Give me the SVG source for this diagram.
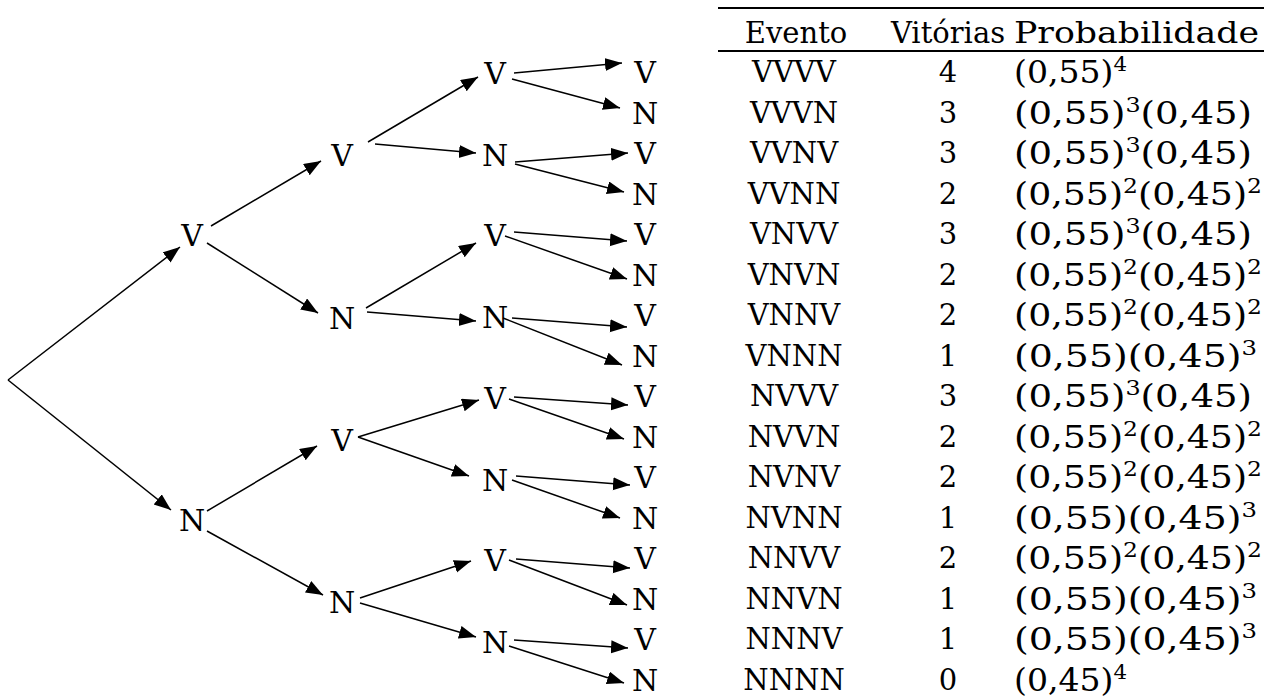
<svg xmlns="http://www.w3.org/2000/svg" width="1264" height="699" viewBox="0 0 1264 699">
<style>
.t{font-family:"DejaVu Serif","Liberation Serif",serif;font-size:30px;fill:#000;text-anchor:middle}
.tb{font-family:"DejaVu Serif","Liberation Serif",serif;font-size:29px;fill:#000}
.p{font-size:31px}
.c{text-anchor:middle}
.sup{font-size:20px}
.e line{stroke:#000;stroke-width:1.5;marker-end:url(#ah)}
.r{stroke:#000;stroke-width:2.2}
</style>
<defs>
<marker id="ah" markerUnits="userSpaceOnUse" markerWidth="18" markerHeight="14" refX="17" refY="6.5" orient="auto">
<path d="M0,0 L17,6.5 L0,13 z" fill="#000"/>
</marker>
</defs>
<rect width="1264" height="699" fill="#fff"/>
<g id="connectors" class="e">
<line x1="8" y1="380" x2="180" y2="247"/>
<line x1="8" y1="380" x2="171" y2="510"/>
<line x1="211" y1="226" x2="321" y2="161"/>
<line x1="207" y1="243" x2="318" y2="313"/>
<line x1="207" y1="511" x2="317" y2="446"/>
<line x1="207" y1="531" x2="323" y2="595"/>
<line x1="368" y1="142" x2="478" y2="77"/>
<line x1="375" y1="144" x2="476" y2="153"/>
<line x1="366" y1="308" x2="476" y2="243"/>
<line x1="367" y1="312" x2="476" y2="321"/>
<line x1="358" y1="437" x2="479" y2="400"/>
<line x1="358" y1="437" x2="469" y2="476"/>
<line x1="360" y1="598" x2="471" y2="561"/>
<line x1="360" y1="603" x2="476" y2="637"/>
<line x1="514" y1="73" x2="622" y2="63"/>
<line x1="512" y1="79" x2="620" y2="108"/>
<line x1="515" y1="162" x2="628" y2="153"/>
<line x1="515" y1="164" x2="624" y2="192"/>
<line x1="514" y1="232" x2="627" y2="241"/>
<line x1="505" y1="236" x2="627" y2="279"/>
<line x1="512" y1="318" x2="627" y2="327"/>
<line x1="503" y1="318" x2="622" y2="365"/>
<line x1="514" y1="397" x2="628" y2="405"/>
<line x1="509" y1="399" x2="624" y2="439"/>
<line x1="516" y1="476" x2="630" y2="485"/>
<line x1="512" y1="480" x2="620" y2="518"/>
<line x1="516" y1="559" x2="630" y2="568"/>
<line x1="509" y1="560" x2="627" y2="605"/>
<line x1="514" y1="640" x2="628" y2="648"/>
<line x1="509" y1="646" x2="624" y2="683"/>
</g>
<g id="n1v"><text class="t" x="192" y="246">V</text></g>
<g id="n1n"><text class="t" x="192" y="531">N</text></g>
<g id="n2vv"><text class="t" x="342" y="166">V</text></g>
<g id="n2vn"><text class="t" x="342" y="329">N</text></g>
<g id="n2nv"><text class="t" x="342" y="451">V</text></g>
<g id="n2nn"><text class="t" x="342" y="613">N</text></g>
<g id="n3a"><text class="t" x="495" y="84">V</text></g>
<g id="n3b"><text class="t" x="495" y="166">N</text></g>
<g id="n3c"><text class="t" x="495" y="246">V</text></g>
<g id="n3d"><text class="t" x="495" y="328">N</text></g>
<g id="n3e"><text class="t" x="495" y="409">V</text></g>
<g id="n3f"><text class="t" x="495" y="491">N</text></g>
<g id="n3g"><text class="t" x="495" y="571">V</text></g>
<g id="n3h"><text class="t" x="495" y="653">N</text></g>
<g id="leaves">
<text class="t" x="645" y="83">V</text>
<text class="t" x="645" y="124">N</text>
<text class="t" x="645" y="164">V</text>
<text class="t" x="645" y="205">N</text>
<text class="t" x="645" y="245">V</text>
<text class="t" x="645" y="286">N</text>
<text class="t" x="645" y="326">V</text>
<text class="t" x="645" y="367">N</text>
<text class="t" x="645" y="407">V</text>
<text class="t" x="645" y="448">N</text>
<text class="t" x="645" y="488">V</text>
<text class="t" x="645" y="529">N</text>
<text class="t" x="645" y="569">V</text>
<text class="t" x="645" y="610">N</text>
<text class="t" x="645" y="650">V</text>
<text class="t" x="645" y="691">N</text>
</g>
<g id="table">
<line class="r" x1="718" y1="8" x2="1264" y2="8"/>
<line class="r" x1="718" y1="51" x2="1264" y2="51"/>
<text class="tb c" x="796" y="43">Evento</text>
<text class="tb c" x="948" y="43">Vitórias</text>
<text class="tb" x="1014" y="43" textLength="245" lengthAdjust="spacingAndGlyphs">Probabilidade</text>
<g class="tb c">
<text x="794" y="82">VVVV</text><text x="948" y="82">4</text>
<text x="794" y="123">VVVN</text><text x="948" y="123">3</text>
<text x="794" y="163">VVNV</text><text x="948" y="163">3</text>
<text x="794" y="204">VVNN</text><text x="948" y="204">2</text>
<text x="794" y="244">VNVV</text><text x="948" y="244">3</text>
<text x="794" y="285">VNVN</text><text x="948" y="285">2</text>
<text x="794" y="325">VNNV</text><text x="948" y="325">2</text>
<text x="794" y="366">VNNN</text><text x="948" y="366">1</text>
<text x="794" y="406">NVVV</text><text x="948" y="406">3</text>
<text x="794" y="447">NVVN</text><text x="948" y="447">2</text>
<text x="794" y="487">NVNV</text><text x="948" y="487">2</text>
<text x="794" y="528">NVNN</text><text x="948" y="528">1</text>
<text x="794" y="568">NNVV</text><text x="948" y="568">2</text>
<text x="794" y="609">NNVN</text><text x="948" y="609">1</text>
<text x="794" y="649">NNNV</text><text x="948" y="649">1</text>
<text x="794" y="690">NNNN</text><text x="948" y="690">0</text>
</g>
<g class="tb p">
<text x="1014" y="83" textLength="113" lengthAdjust="spacingAndGlyphs">(0,55)<tspan class="sup" dy="-12">4</tspan></text>
<text x="1014" y="124" textLength="238" lengthAdjust="spacingAndGlyphs">(0,55)<tspan class="sup" dy="-12">3</tspan><tspan dy="12">(0,45)</tspan></text>
<text x="1014" y="164" textLength="238" lengthAdjust="spacingAndGlyphs">(0,55)<tspan class="sup" dy="-12">3</tspan><tspan dy="12">(0,45)</tspan></text>
<text x="1014" y="205" textLength="248" lengthAdjust="spacingAndGlyphs">(0,55)<tspan class="sup" dy="-12">2</tspan><tspan dy="12">(0,45)</tspan><tspan class="sup" dy="-12">2</tspan></text>
<text x="1014" y="245" textLength="238" lengthAdjust="spacingAndGlyphs">(0,55)<tspan class="sup" dy="-12">3</tspan><tspan dy="12">(0,45)</tspan></text>
<text x="1014" y="286" textLength="248" lengthAdjust="spacingAndGlyphs">(0,55)<tspan class="sup" dy="-12">2</tspan><tspan dy="12">(0,45)</tspan><tspan class="sup" dy="-12">2</tspan></text>
<text x="1014" y="326" textLength="248" lengthAdjust="spacingAndGlyphs">(0,55)<tspan class="sup" dy="-12">2</tspan><tspan dy="12">(0,45)</tspan><tspan class="sup" dy="-12">2</tspan></text>
<text x="1014" y="367" textLength="243" lengthAdjust="spacingAndGlyphs">(0,55)(0,45)<tspan class="sup" dy="-12">3</tspan></text>
<text x="1014" y="407" textLength="238" lengthAdjust="spacingAndGlyphs">(0,55)<tspan class="sup" dy="-12">3</tspan><tspan dy="12">(0,45)</tspan></text>
<text x="1014" y="448" textLength="248" lengthAdjust="spacingAndGlyphs">(0,55)<tspan class="sup" dy="-12">2</tspan><tspan dy="12">(0,45)</tspan><tspan class="sup" dy="-12">2</tspan></text>
<text x="1014" y="488" textLength="248" lengthAdjust="spacingAndGlyphs">(0,55)<tspan class="sup" dy="-12">2</tspan><tspan dy="12">(0,45)</tspan><tspan class="sup" dy="-12">2</tspan></text>
<text x="1014" y="529" textLength="243" lengthAdjust="spacingAndGlyphs">(0,55)(0,45)<tspan class="sup" dy="-12">3</tspan></text>
<text x="1014" y="569" textLength="248" lengthAdjust="spacingAndGlyphs">(0,55)<tspan class="sup" dy="-12">2</tspan><tspan dy="12">(0,45)</tspan><tspan class="sup" dy="-12">2</tspan></text>
<text x="1014" y="610" textLength="243" lengthAdjust="spacingAndGlyphs">(0,55)(0,45)<tspan class="sup" dy="-12">3</tspan></text>
<text x="1014" y="650" textLength="243" lengthAdjust="spacingAndGlyphs">(0,55)(0,45)<tspan class="sup" dy="-12">3</tspan></text>
<text x="1014" y="691" textLength="113" lengthAdjust="spacingAndGlyphs">(0,45)<tspan class="sup" dy="-12">4</tspan></text>
</g>
</g>
</svg>
